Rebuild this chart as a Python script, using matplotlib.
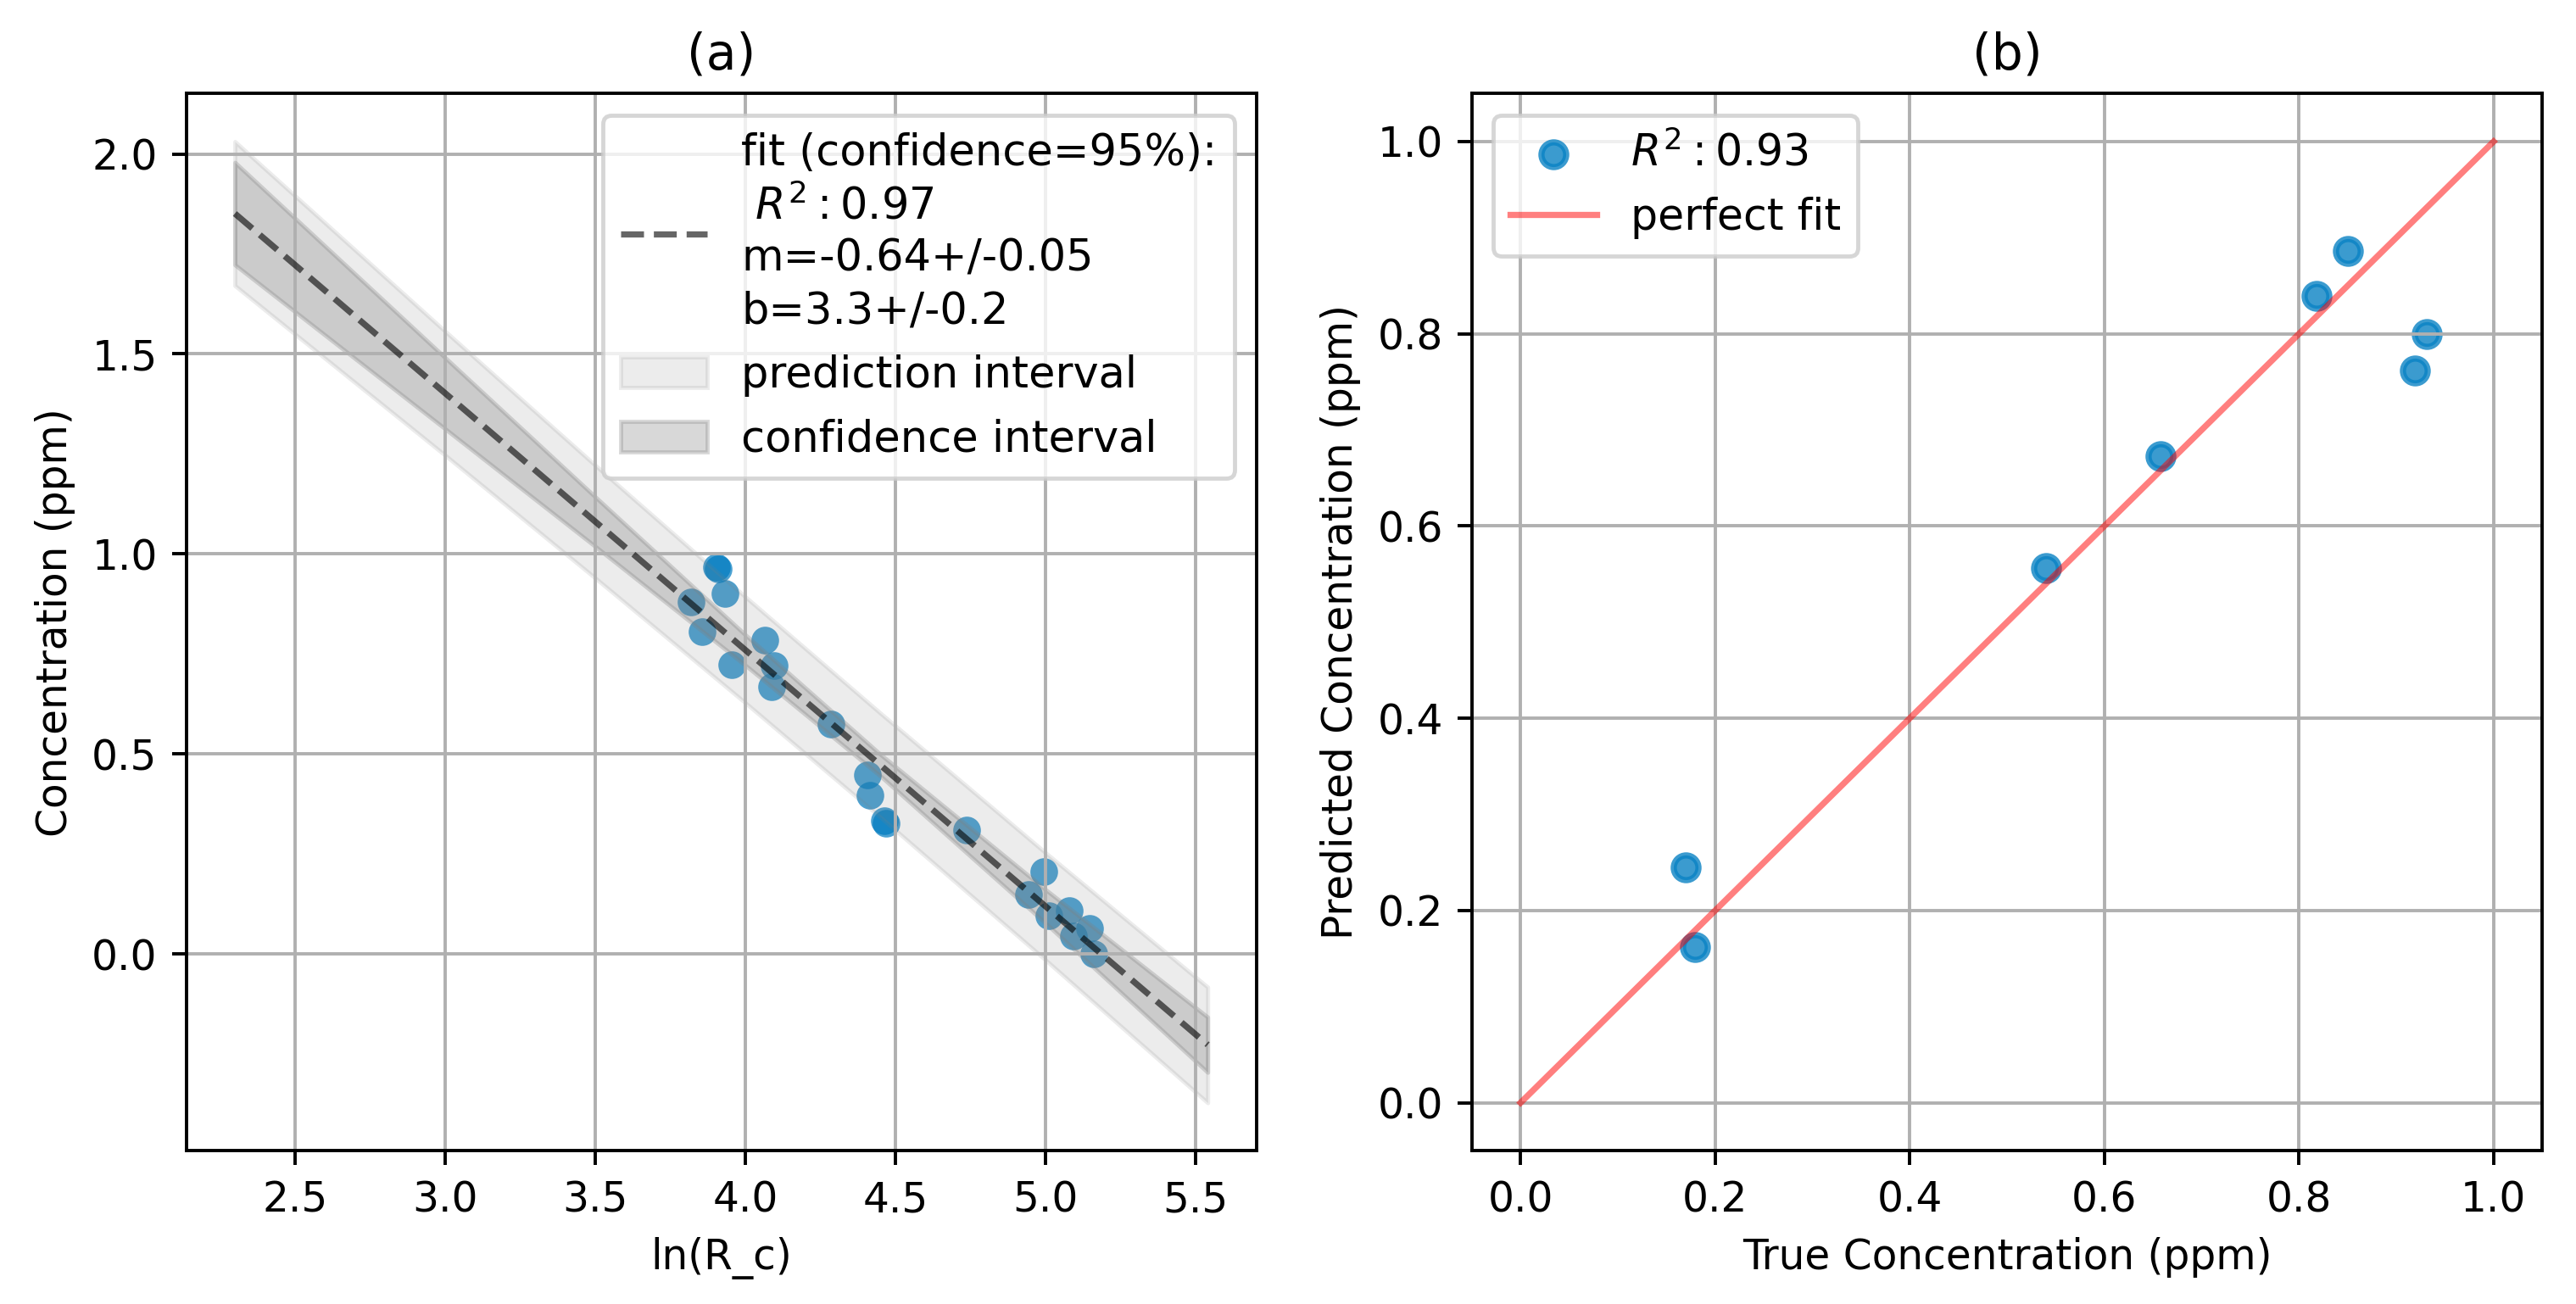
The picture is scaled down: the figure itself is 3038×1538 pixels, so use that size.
import matplotlib
matplotlib.use("Agg")
import matplotlib.pyplot as plt

# ---- Panel (a) data ----
ln_rc = [3.904, 3.910, 3.932, 3.819, 3.857, 4.064, 3.956, 4.097, 4.087, 4.285,
         4.408, 4.416, 4.462, 4.468, 4.737, 4.995, 4.943, 5.010, 5.080, 5.094,
         5.146, 5.160]
conc = [0.966, 0.962, 0.901, 0.880, 0.805, 0.784, 0.724, 0.720, 0.667, 0.575,
        0.447, 0.396, 0.332, 0.326, 0.309, 0.205, 0.149, 0.096, 0.108, 0.045,
        0.064, 0.000]

band_x = [2.30, 3.00, 3.50, 4.00, 4.45, 5.00, 5.54]
fit_y = [1.851, 1.402, 1.081, 0.760, 0.472, 0.119, -0.227]
conf_lo = [1.723, 1.313, 1.019, 0.722, 0.445, 0.077, -0.296]
conf_hi = [1.979, 1.491, 1.143, 0.798, 0.499, 0.161, -0.158]
pred_lo = [1.671, 1.247, 0.940, 0.628, 0.342, -0.015, -0.372]
pred_hi = [2.031, 1.557, 1.222, 0.893, 0.602, 0.253, -0.083]

fit_label = "fit (confidence=95%):\n $R^2: 0.97$\nm=-0.64+/-0.05\nb=3.3+/-0.2"

# ---- Panel (b) data ----
true_conc = [0.170, 0.179, 0.540, 0.658, 0.818, 0.850, 0.919, 0.931]
pred_conc = [0.245, 0.162, 0.556, 0.673, 0.839, 0.886, 0.762, 0.800]
perfect = [0.0, 1.0]

plt.rcParams['font.family'] = ['DejaVu Sans']

fig = plt.figure(figsize=(3038 / 350, 1538 / 350), dpi=350)
ax1 = fig.add_axes([0.0723, 0.1175, 0.4154, 0.8108])
ax2 = fig.add_axes([0.5714, 0.1175, 0.4155, 0.8108])

# Panel (a)
ax1.scatter(ln_rc, conc, s=45, color='#007bc0', alpha=0.7, linewidths=0)
ax1.plot(band_x, fit_y, 'k--', alpha=0.6, label=fit_label)
ax1.fill_between(band_x, pred_lo, pred_hi, color='gray', alpha=0.15,
                 label='prediction interval')
ax1.fill_between(band_x, conf_lo, conf_hi, color='gray', alpha=0.3,
                 label='confidence interval')
ax1.set_xlabel('ln(R_c)')
ax1.set_ylabel('Concentration (ppm)')
ax1.set_title('(a)')
ax1.grid(True)
leg1 = ax1.legend(loc='upper right', fontsize=10.5)
leg1.get_texts()[0].set_linespacing(1.3)

# Panel (b)
ax2.scatter(true_conc, pred_conc, s=36, color='#0a82c4', alpha=0.8,
            linewidths=1.5, label='$R^2: 0.93$')
ax2.plot(perfect, perfect, color='red', alpha=0.5, label='perfect fit')
ax2.set_xlabel('True Concentration (ppm)')
ax2.set_ylabel('Predicted Concentration (ppm)')
ax2.set_title('(b)')
ax2.grid(True)
ax2.legend(loc='upper left', fontsize=10.4)

fig.savefig('out.png', dpi=350)
